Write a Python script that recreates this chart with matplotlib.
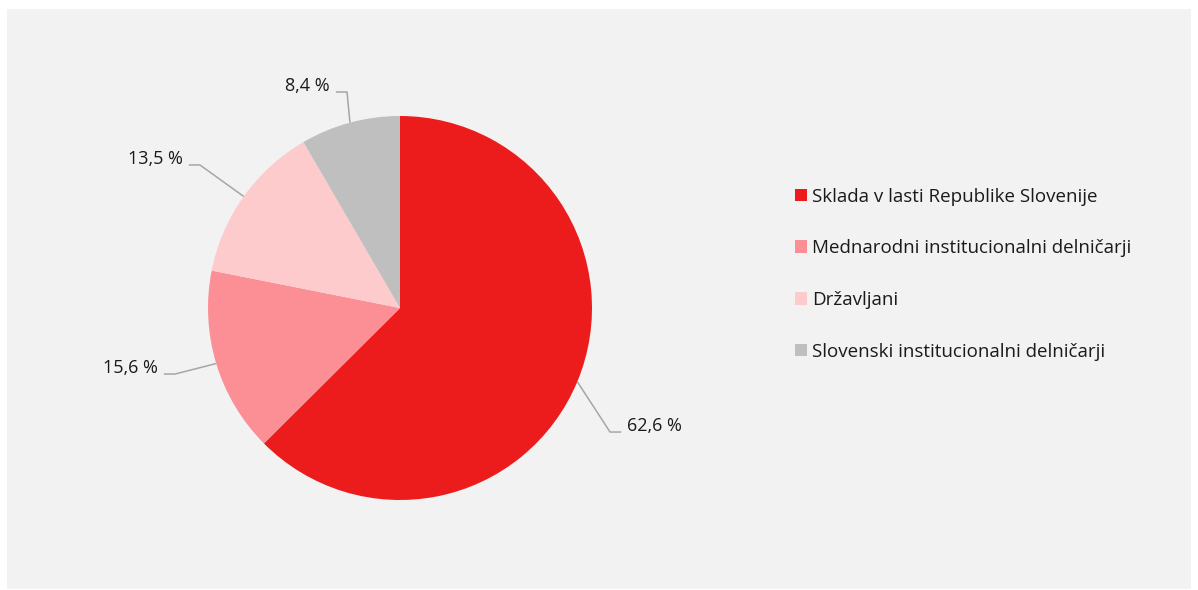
import matplotlib.pyplot as plt
from matplotlib.patches import Rectangle
import numpy as np

plt.rcParams['font.family'] = ['Open Sans', 'DejaVu Sans']

# ownership structure (%)
labels = ["Sklada v lasti Republike Slovenije",
          "Mednarodni institucionalni delničarji",
          "Državljani",
          "Slovenski institucionalni delničarji"]
shares = [62.6, 15.6, 13.5, 8.4]
value_labels = ["62,6 %", "15,6 %", "13,5 %", "8,4 %"]
colors = ["#ED1C1C", "#FB8F95", "#FDCBCB", "#BFBFBF"]

# elbow points of the leader lines (in pie radius units)
elbows = [(1.094, -0.646), (-1.172, -0.344), (-1.042, 0.745), (-0.276, 1.125)]

W, H = 1198, 590
fig = plt.figure(figsize=(W / 100, H / 100), dpi=100, facecolor="white")
fig.patches.append(Rectangle((7 / W, 1 - 589 / H), 1184 / W, 580 / H,
                             transform=fig.transFigure, facecolor="#F2F2F2",
                             edgecolor="none", zorder=-10))

# pie centre (400, 308) px, radius 192 px; axes spans +-1.5 radii
r, cx, cy, ext = 192, 400, 308, 1.5
ax = fig.add_axes([(cx - ext * r) / W, 1 - (cy + ext * r) / H,
                   2 * ext * r / W, 2 * ext * r / H])
ax.patch.set_visible(False)

wedges, _ = ax.pie(shares, colors=colors, startangle=90, counterclock=False,
                   radius=1, wedgeprops=dict(linewidth=0))
ax.set_xlim(-ext, ext)
ax.set_ylim(-ext, ext)
ax.set_aspect("equal")
ax.axis("off")

for w, txt, (ex, ey) in zip(wedges, value_labels, elbows):
    ang = np.deg2rad((w.theta1 + w.theta2) / 2)
    px, py = np.cos(ang), np.sin(ang)
    side = 1 if ex > 0 else -1
    hx = ex + side * 0.058
    ax.plot([px, ex, hx], [py, ey, ey], color="#A6A6A6", lw=1.1,
            solid_capstyle="butt", clip_on=False)
    ax.text(hx + side * 0.03, ey + 0.032, txt, ha="left" if side > 0 else "right",
            va="center", fontsize=13, color="#1a1a1a", clip_on=False)

fig.legend(wedges, labels, loc="upper left",
           bbox_to_anchor=(795 / W, 1 - 187.5 / H), frameon=False,
           fontsize=13.5, handlelength=0.64, handleheight=0.64,
           handletextpad=0.25, labelspacing=1.8, borderpad=0,
           borderaxespad=0, labelcolor="#1a1a1a")

fig.savefig("out.png", dpi=100, facecolor="white")
